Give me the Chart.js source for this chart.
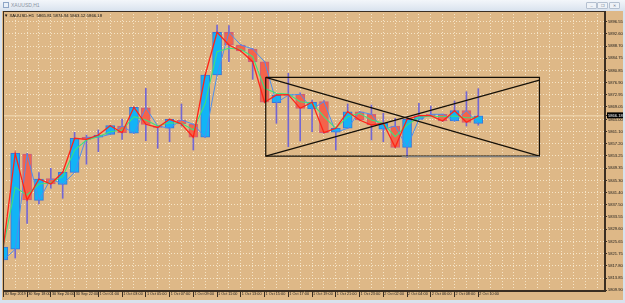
<!DOCTYPE html>
<html>
<head>
<meta charset="utf-8">
<script src="https://cdn.jsdelivr.net/npm/chart.js@4.4.1/dist/chart.umd.min.js"></script>
<style>
  html, body { margin: 0; padding: 0; }
  body {
    width: 625px; height: 303px; position: relative; overflow: hidden;
    background: #d8e2ee;
    font-family: 'Liberation Sans', Arial, sans-serif;
  }
  #titlebar {
    position: absolute; left: 0; top: 0; width: 625px; height: 10px;
    background: linear-gradient(#f3f6fa, #dbe4ef);
  }
  #titlebar .icon {
    position: absolute; left: 3px; top: 2px; width: 4px; height: 4px;
    border: 1px solid #8ea6c6; background: #e9f0f8;
  }
  #titlebar .name { position: absolute; left: 11px; top: 2px; font-size: 5px; color: #8a94a2; }
  .btn {
    position: absolute; top: 2px; width: 9px; height: 5px;
    border: 1px solid #b4c0d0; background: #eef2f7; border-radius: 1px;
    font-size: 4px; line-height: 5px; text-align: center; color: #6b7686;
  }
  #wrap { position: absolute; left: 2px; top: 11px; width: 621px; height: 289px; background: #deb887; }
  #info { position: absolute; left: 4px; top: 13px; font-size: 4.3px; color: #111; z-index: 2; white-space: pre; }
</style>
</head>
<body>
<div id="titlebar">
  <div class="icon"></div>
  <div class="name">XAUUSD,H1</div>
  <div class="btn" style="left:586px">&#8211;</div>
  <div class="btn" style="left:597px">&#10064;</div>
  <div class="btn" style="left:609px">&#10005;</div>
</div>
<div id="wrap"><canvas id="chart" width="621" height="289"></canvas></div>
<div id="info">&#9660; XAUUSD,H1  5865.81 5874.94 5863.12 5866.18</div>
<script>
// hourly bars, one label every second bar
const timeLabels = ["30 Sep 2019", "30 Sep 18:00", "30 Sep 20:00", "30 Sep 22:00", "1 Oct 01:00",
    "1 Oct 03:00", "1 Oct 05:00", "1 Oct 07:00", "1 Oct 09:00", "1 Oct 11:00", "1 Oct 13:00",
    "1 Oct 15:00", "1 Oct 17:00", "1 Oct 19:00", "1 Oct 21:00", "1 Oct 23:00", "2 Oct 02:00",
    "2 Oct 04:00", "2 Oct 06:00", "2 Oct 08:00", "2 Oct 10:00"];

const opens = [5819.67, 5823.13, 5853.87, 5838.93, 5845.90, 5844.09, 5847.96, 5859.26, 5859.26, 5860.22,
    5862.90, 5860.55, 5868.80, 5862.90, 5862.16, 5864.84, 5863.45, 5859.26, 5879.35, 5893.13,
    5889.03, 5887.74, 5883.64, 5870.42, 5872.84, 5873.13, 5868.38, 5870.74, 5860.87, 5862.16,
    5867.51, 5866.68, 5861.84, 5862.90, 5856.03, 5865.06, 5866.68, 5866.68, 5864.51, 5867.84, 5863.77];
const highs = [5829.68, 5854.20, 5854.10, 5847.84, 5849.25, 5848.05, 5860.87, 5859.99, 5861.61, 5863.10,
    5865.16, 5869.03, 5875.06, 5863.06, 5865.16, 5870.00, 5863.55, 5879.50, 5895.48, 5895.26,
    5889.20, 5887.90, 5883.70, 5873.00, 5879.90, 5873.64, 5871.29, 5871.10, 5862.26, 5870.00,
    5867.60, 5869.68, 5867.00, 5865.39, 5865.50, 5870.23, 5869.35, 5866.80, 5870.97, 5873.96, 5874.94];
const lows = [5819.03, 5820.32, 5831.51, 5837.74, 5842.80, 5839.58, 5847.90, 5850.55, 5854.61, 5860.15,
    5858.61, 5860.50, 5858.16, 5855.71, 5857.84, 5862.90, 5855.16, 5859.20, 5879.30, 5883.64,
    5886.90, 5877.97, 5870.50, 5863.77, 5856.22, 5858.06, 5861.06, 5860.60, 5855.16, 5862.10,
    5864.70, 5858.38, 5857.84, 5855.97, 5852.80, 5865.00, 5866.10, 5864.40, 5864.45, 5862.90, 5863.12];
const closes = [5823.87, 5854.10, 5839.03, 5845.80, 5844.19, 5847.96, 5858.93, 5858.61, 5859.99, 5863.00,
    5860.74, 5868.93, 5863.45, 5862.42, 5865.06, 5863.55, 5859.26, 5879.35, 5893.13, 5889.03,
    5887.10, 5883.64, 5870.55, 5872.90, 5873.03, 5868.61, 5870.55, 5860.74, 5862.16, 5867.51,
    5864.84, 5863.22, 5863.77, 5856.03, 5865.06, 5866.22, 5866.22, 5864.51, 5867.84, 5864.09, 5866.18];
// green moving average
const maSlow = [5823.87, 5843.13, 5840.64, 5844.19, 5844.61, 5846.55, 5855.16, 5858.38, 5859.45, 5861.06,
    5861.61, 5865.90, 5864.84, 5862.90, 5863.97, 5863.77, 5861.61, 5870.23, 5886.87, 5887.97,
    5887.64, 5885.26, 5875.06, 5873.45, 5873.22, 5870.74, 5870.23, 5865.90, 5862.16, 5865.90,
    5867.00, 5864.84, 5863.77, 5859.45, 5863.22, 5865.71, 5866.13, 5865.90, 5866.13, 5865.58, 5865.58];

const priceTicks = [5809.90, 5813.85, 5817.80, 5821.75, 5825.65, 5829.60, 5833.55, 5837.50, 5841.40,
    5845.30, 5849.35, 5853.25, 5857.20, 5861.10, 5865.00, 5869.05, 5872.95, 5876.90, 5880.85,
    5884.75, 5888.70, 5892.60, 5896.55];
const bid = 5866.18;

// drawn objects: box with two trend lines (bar index, price)
const boxBars = [22.1, 45.15];
const boxPrices = [5853.2, 5878.6];
const trendUpEnd = 5877.7;
const greyLine = { from: 33.55, to: 45.15, price: 5853.0 };

const slots = 51;
const bullFill = "#12b4f6", bearFill = "#f4634a", wickColor = "#7468d4";

const ohlcIdx = opens.map((_, i) => i);
const isBull = ohlcIdx.map(i => closes[i] >= opens[i]);

const lineDs = (pts, color, width, order) => ({
    type: "line", data: pts, borderColor: color, borderWidth: width,
    pointRadius: 0, tension: 0, fill: false, order: order
});

const datasets = [
    lineDs([{ x: boxBars[0], y: boxPrices[1] }, { x: boxBars[1], y: boxPrices[1] }, { x: boxBars[1], y: boxPrices[0] },
        { x: boxBars[0], y: boxPrices[0] }, { x: boxBars[0], y: boxPrices[1] }], "#151008", 1.2, 1),
    lineDs([{ x: boxBars[0], y: boxPrices[1] }, { x: boxBars[1], y: boxPrices[0] }], "#151008", 1.2, 1),
    lineDs([{ x: boxBars[0], y: boxPrices[0] }, { x: boxBars[1], y: trendUpEnd }], "#151008", 1.2, 1),
    lineDs([{ x: greyLine.from, y: greyLine.price }, { x: greyLine.to, y: greyLine.price }], "#7a7a7a", 1.2, 0),
    lineDs(closes.map((c, i) => ({ x: i, y: c })), "#ff2418", 1.3, 2),
    lineDs(maSlow.map((v, i) => ({ x: i, y: v })), "#3fe07a", 1.1, 3),
    lineDs(opens.map((o, i) => ({ x: i, y: o })), "#4a8ff0", 1, 4),
    {
        type: "bar", order: 5, grouped: false, barThickness: 9,
        data: ohlcIdx.map(i => ({ x: i, y: [opens[i], closes[i]] })),
        backgroundColor: ohlcIdx.map(i => isBull[i] ? bullFill : bearFill),
        borderColor: ohlcIdx.map(i => isBull[i] ? "#3d73d8" : "#c9607e"),
        borderWidth: 1, borderSkipped: false
    },
    {
        type: "bar", order: 6, grouped: false, barThickness: 1,
        data: ohlcIdx.map(i => ({ x: i, y: [lows[i], highs[i]] })),
        backgroundColor: wickColor, borderWidth: 0
    },
    lineDs([{ x: -2, y: bid }, { x: slots + 2, y: bid }], "#f3dcb6", 1, 7)
];

const frame = {
    id: "frame",
    afterDraw(chart) {
        const { ctx, chartArea: a } = chart;
        ctx.save();
        ctx.strokeStyle = "#3a2e22";
        ctx.lineWidth = 1;
        ctx.strokeRect(Math.round(a.left) + 0.5, Math.round(a.top) + 0.5,
            Math.round(a.right - a.left) - 1, Math.round(a.bottom - a.top) - 1);
        ctx.restore();
    }
};

const xFont = { family: "'Liberation Sans', Arial, sans-serif", size: 3.8 };
const yFont = { family: "'Liberation Sans', Arial, sans-serif", size: 4.1 };
const gridColor = "rgba(250, 236, 210, 0.85)";

new Chart(document.getElementById("chart"), {
    type: "bar",
    data: { datasets: datasets },
    options: {
        responsive: false,
        animation: false,
        devicePixelRatio: 1,
        layout: { padding: { left: 1, top: 0, right: 0, bottom: 0 } },
        plugins: { legend: { display: false }, tooltip: { enabled: false } },
        scales: {
            x: {
                type: "linear", min: -0.028, max: 50.67, offset: false,
                grid: {
                    offset: false, color: gridColor, lineWidth: 1,
                    tickLength: 6,
                    tickColor: c => (c.tick && c.tick.value % 2 === 0 && c.tick.value / 2 < timeLabels.length) ? "#3a2e22" : "transparent"
                },
                border: { display: true, color: "#3a2e22", dash: [1, 2] },
                afterBuildTicks: s => { s.ticks = Array.from({ length: slots }, (_, i) => ({ value: i })); },
                afterFit: s => { s.height = 9; s.paddingLeft = 0; s.paddingRight = 0; },
                ticks: {
                    autoSkip: false, maxRotation: 0, minRotation: 0, align: "start", padding: -5,
                    color: "#1a1a1a", font: xFont,
                    callback: v => (v % 2 === 0 && v / 2 < timeLabels.length) ? " " + timeLabels[v / 2] : ""
                }
            },
            y: {
                type: "linear", position: "right", min: 5809.67, max: 5900.0,
                grid: {
                    color: c => (c.tick && c.tick.value === bid) ? "transparent" : gridColor,
                    tickLength: 2, tickColor: "#3a2e22"
                },
                border: { display: true, color: "#3a2e22", dash: [1, 2] },
                afterBuildTicks: s => { s.ticks = priceTicks.concat([bid]).map(v => ({ value: v })); },
                afterFit: s => { s.width = 18; s.paddingTop = 0; s.paddingBottom = 0; },
                ticks: {
                    autoSkip: false, padding: 1, font: yFont,
                    color: c => (c.tick && c.tick.value === bid) ? "#ffffff" : "#1a1a1a",
                    showLabelBackdrop: c => !!(c.tick && c.tick.value === bid),
                    backdropColor: "#000000",
                    backdropPadding: { left: 1, right: 2, top: 1, bottom: 0 },
                    callback: v => v.toFixed(2)
                }
            }
        }
    },
    plugins: [frame]
});
</script>
</body>
</html>
